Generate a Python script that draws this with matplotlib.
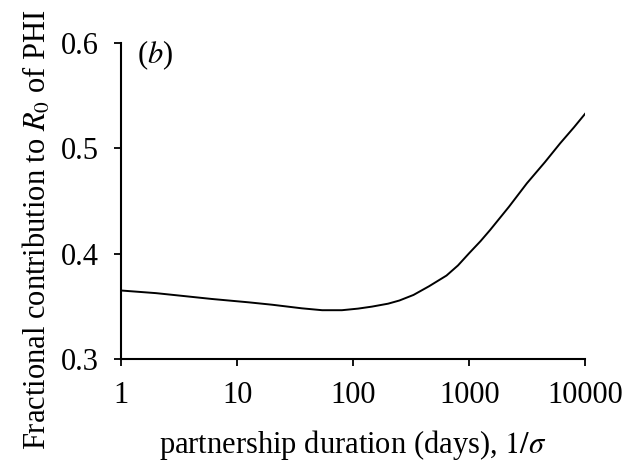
import matplotlib
matplotlib.use("Agg")
import matplotlib.pyplot as plt
from matplotlib.ticker import NullLocator

# values
duration = [1, 2, 3.3, 6, 12.5, 20, 36, 54, 80, 110, 145, 200, 250, 331, 450,
            637, 800, 1000, 1250, 1515, 2200, 3140, 4500, 6080, 8000, 10000]
fraction = [0.365, 0.3625, 0.360, 0.357, 0.3538, 0.3515, 0.3481, 0.3463, 0.3463,
            0.3478, 0.3497, 0.3525, 0.3555, 0.3608, 0.369, 0.3792, 0.3888, 0.4005,
            0.4118, 0.4225, 0.4445, 0.4668, 0.487, 0.5048, 0.520, 0.533]
xticks = [1, 10, 100, 1000, 10000]
yticks = [0.3, 0.4, 0.5, 0.6]

plt.rcParams["font.family"] = ["Liberation Serif", "DejaVu Serif"]
plt.rcParams["mathtext.fontset"] = "stix"

fig = plt.figure(figsize=(6.41, 4.68), dpi=100)
ax = fig.add_axes([0.189, 0.233, 0.724, 0.675])

ax.plot(duration, fraction, color="black", lw=1.4)

ax.set_xscale("log")
ax.set_xlim(1, 10000)
ax.set_ylim(0.3, 0.6)
ax.set_xticks(xticks)
ax.set_xticklabels([str(t) for t in xticks])
ax.xaxis.set_minor_locator(NullLocator())
ax.set_yticks(yticks)
ax.set_yticklabels([f"{t:.1f}" for t in yticks])
ax.tick_params(direction="out", length=5, width=1.3, labelsize=22)
ax.tick_params(axis="y", pad=11)
ax.tick_params(axis="x", pad=11)
for s in ["top", "right"]:
    ax.spines[s].set_visible(False)
for s in ["left", "bottom"]:
    ax.spines[s].set_linewidth(1.5)

ax.set_xlabel(r"partnership duration (days), $1/\sigma$", fontsize=22)
ax.set_ylabel(r"Fractional contribution to $R_0$ of PHI", fontsize=22)
ax.xaxis.set_label_coords(0.5, -0.22)
ax.yaxis.set_label_coords(-0.148, 0.41)
ax.text(0.035, 1.015, r"($\it{b}$)", transform=ax.transAxes, fontsize=22, va="top")

fig.savefig("out.png", dpi=100)
